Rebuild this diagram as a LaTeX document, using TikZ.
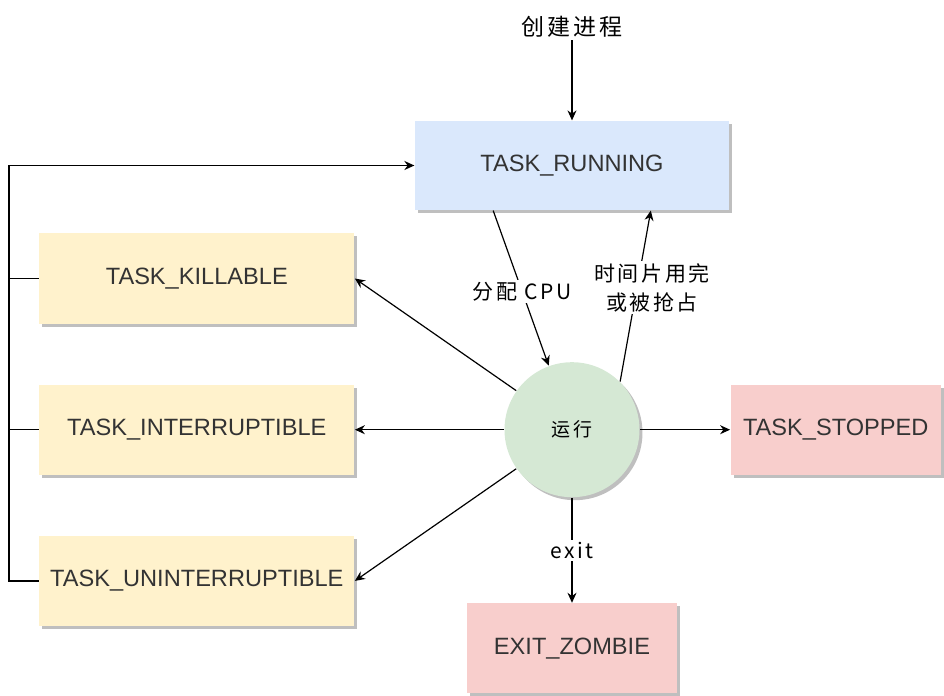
\documentclass[tikz,border=0pt]{standalone}
\usepackage{fontspec}
\setmainfont{Liberation Sans}
\newfontfamily\cjk[LetterSpace=12]{Noto Sans CJK SC}
\usepackage{xcolor}
\usetikzlibrary{arrows.meta, shadows, calc, positioning}
\definecolor{runblue}{HTML}{DAE8FC}
\definecolor{waityellow}{HTML}{FFF2CC}
\definecolor{stopred}{HTML}{F8CECC}
\definecolor{rungreen}{HTML}{D5E8D4}
\definecolor{textgray}{HTML}{333333}
\tikzset{> = { Stealth[length = 5pt, width = 4.5pt] }}

\begin{document}
\begin{tikzpicture}[->, line width = 0.6pt, state/.style = { text = textgray, font = \fontsize{11.8}{13}\selectfont, minimum width = 157.5pt, minimum height = 45pt, inner sep = 0pt, drop shadow={shadow xshift=1.5pt,shadow yshift=-1.5pt,fill=black!25,opacity=1} }, cpustate/.style = { circle, fill = rungreen, minimum size = 67.5pt, inner sep = 0pt, font = \cjk\fontsize{9.5}{10}\selectfont, drop shadow={shadow xshift=1.5pt,shadow yshift=-1.5pt,fill=black!25,opacity=1} }, edgetext/.style = { font = \cjk\fontsize{10.5}{14.5}\selectfont, fill = white, inner sep = 1pt, align = center }]
				\node [state, fill = runblue, minimum width = 157pt, minimum height = 44.5pt] (running) {TASK\_RUNNING};
				\node [edgetext, font = \cjk\fontsize{11.5}{13}\selectfont, above = 40pt of running] (create) {创建进程};
				\node [cpustate, below = 75.5pt of running] (cpu) {运行};

				\node [state, fill = waityellow, left = 74.5pt of cpu] (interruptible) {TASK\_INTERRUPTIBLE};
				\node [state, fill = waityellow, above = 30pt of interruptible] (killable) {TASK\_KILLABLE};
				\node [state, fill = waityellow, below = 30pt of interruptible] (uninterruptible) {TASK\_UNINTERRUPTIBLE};

				\node [state, fill = stopred, minimum width = 105pt, right = 45pt of cpu] (stopped) {TASK\_STOPPED};
				\node [state, fill = stopred, minimum width = 105pt, below = 52.5pt of cpu] (zombie) {EXIT\_ZOMBIE};

				\useasboundingbox ($(running.center) + (-286pt, 82.75pt)$) rectangle ($(running.center) + (186pt, -265.25pt)$);

				\draw (create) -- (running);
				\draw ($(running.south)!0.5!(running.south west)$) -- node[edgetext, pos = 0.52]{分配 CPU} (cpu.110);
				\draw (cpu.45) -- node[edgetext, pos = 0.55, xshift = 7.5pt]{时间片用完\\或被抢占} ($(running.south)!0.5!(running.south east)$);

				\draw (cpu.145) -- (killable.east);
				\draw (cpu.west) -- (interruptible.east);
				\draw (cpu.215) -- (uninterruptible.east);
				\draw (cpu.east) -- (stopped.west);
				\draw (cpu.south) -- node[edgetext]{exit} (zombie.north);

				\coordinate (bus) at ($(uninterruptible.west) + (-15pt, 0)$);
				\draw [line width = 0.9pt] (uninterruptible.west) -- (bus) |- (running.west);
				\draw [-] (killable.west) -- (killable.west -| bus);
				\draw [-] (interruptible.west) -- (interruptible.west -| bus);
			\end{tikzpicture}
\end{document}
